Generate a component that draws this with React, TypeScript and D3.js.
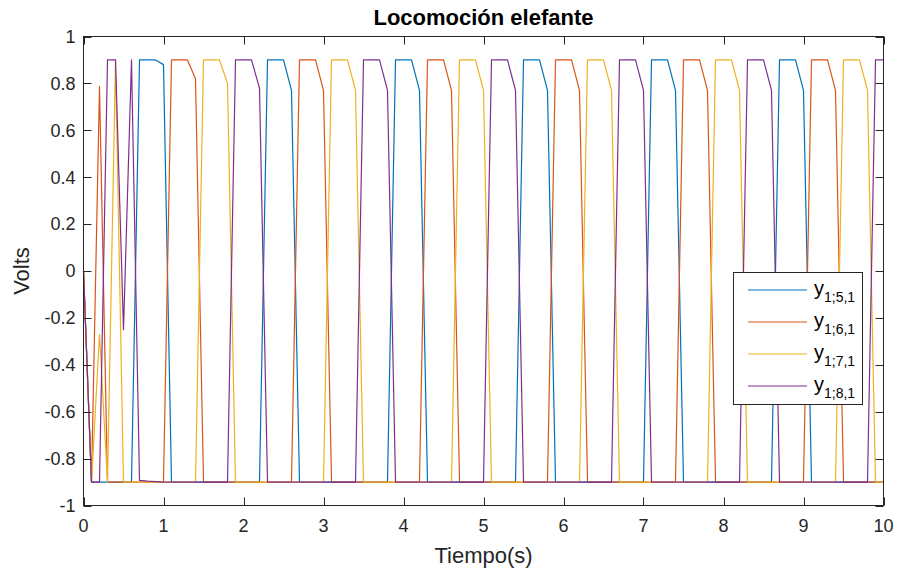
import React from 'react';
import * as d3 from 'd3';

const time = [
  0, 0.1, 0.2, 0.3, 0.4, 0.5, 0.6, 0.7, 0.8, 0.9,
  1, 1.1, 1.2, 1.3, 1.4, 1.5, 1.6, 1.7, 1.8, 1.9,
  2, 2.1, 2.2, 2.3, 2.4, 2.5, 2.6, 2.7, 2.8, 2.9,
  3, 3.1, 3.2, 3.3, 3.4, 3.5, 3.6, 3.7, 3.8, 3.9,
  4, 4.1, 4.2, 4.3, 4.4, 4.5, 4.6, 4.7, 4.8, 4.9,
  5, 5.1, 5.2, 5.3, 5.4, 5.5, 5.6, 5.7, 5.8, 5.9,
  6, 6.1, 6.2, 6.3, 6.4, 6.5, 6.6, 6.7, 6.8, 6.9,
  7, 7.1, 7.2, 7.3, 7.4, 7.5, 7.6, 7.7, 7.8, 7.9,
  8, 8.1, 8.2, 8.3, 8.4, 8.5, 8.6, 8.7, 8.8, 8.9,
  9, 9.1, 9.2, 9.3, 9.4, 9.5, 9.6, 9.7, 9.8, 9.9,
  10,
];

const y151 = [
  0, -0.9, -0.9, -0.9, -0.9, -0.9, -0.9, 0.9, 0.9, 0.9,
  0.88, -0.9, -0.9, -0.9, -0.9, -0.9, -0.9, -0.9, -0.9, -0.9,
  -0.9, -0.9, -0.9, 0.9, 0.9, 0.9, 0.77, -0.9, -0.9, -0.9,
  -0.9, -0.9, -0.9, -0.9, -0.9, -0.9, -0.9, -0.9, -0.9, 0.9,
  0.9, 0.9, 0.77, -0.9, -0.9, -0.9, -0.9, -0.9, -0.9, -0.9,
  -0.9, -0.9, -0.9, -0.9, -0.9, 0.9, 0.9, 0.9, 0.77, -0.9,
  -0.9, -0.9, -0.9, -0.9, -0.9, -0.9, -0.9, -0.9, -0.9, -0.9,
  -0.9, 0.9, 0.9, 0.9, 0.77, -0.9, -0.9, -0.9, -0.9, -0.9,
  -0.9, -0.9, -0.9, -0.9, -0.9, -0.9, -0.9, 0.9, 0.9, 0.9,
  0.77, -0.9, -0.9, -0.9, -0.9, -0.9, -0.9, -0.9, -0.9, -0.9,
  -0.9,
];

const y161 = [
  0, -0.9, 0.787, -0.9, -0.9, -0.9, -0.9, -0.9, -0.9, -0.9,
  -0.9, 0.9, 0.9, 0.9, 0.82, -0.9, -0.9, -0.9, -0.9, -0.9,
  -0.9, -0.9, -0.9, -0.9, -0.9, -0.9, -0.9, 0.9, 0.9, 0.9,
  0.77, -0.9, -0.9, -0.9, -0.9, -0.9, -0.9, -0.9, -0.9, -0.9,
  -0.9, -0.9, -0.9, 0.9, 0.9, 0.9, 0.77, -0.9, -0.9, -0.9,
  -0.9, -0.9, -0.9, -0.9, -0.9, -0.9, -0.9, -0.9, -0.9, 0.9,
  0.9, 0.9, 0.77, -0.9, -0.9, -0.9, -0.9, -0.9, -0.9, -0.9,
  -0.9, -0.9, -0.9, -0.9, -0.9, 0.9, 0.9, 0.9, 0.77, -0.9,
  -0.9, -0.9, -0.9, -0.9, -0.9, -0.9, -0.9, -0.9, -0.9, -0.9,
  -0.9, 0.9, 0.9, 0.9, 0.77, -0.9, -0.9, -0.9, -0.9, -0.9,
  -0.9,
];

const y171 = [
  0, -0.9, -0.27, -0.9, 0.9, -0.9, -0.9, -0.9, -0.9, -0.9,
  -0.9, -0.9, -0.9, -0.9, -0.9, 0.9, 0.9, 0.9, 0.8, -0.9,
  -0.9, -0.9, -0.9, -0.9, -0.9, -0.9, -0.9, -0.9, -0.9, -0.9,
  -0.9, 0.9, 0.9, 0.9, 0.77, -0.9, -0.9, -0.9, -0.9, -0.9,
  -0.9, -0.9, -0.9, -0.9, -0.9, -0.9, -0.9, 0.9, 0.9, 0.9,
  0.77, -0.9, -0.9, -0.9, -0.9, -0.9, -0.9, -0.9, -0.9, -0.9,
  -0.9, -0.9, -0.9, 0.9, 0.9, 0.9, 0.77, -0.9, -0.9, -0.9,
  -0.9, -0.9, -0.9, -0.9, -0.9, -0.9, -0.9, -0.9, -0.9, 0.9,
  0.9, 0.9, 0.77, -0.9, -0.9, -0.9, -0.9, -0.9, -0.9, -0.9,
  -0.9, -0.9, -0.9, -0.9, -0.9, 0.9, 0.9, 0.9, 0.77, -0.9,
  -0.9,
];

const y181 = [
  0, -0.9, -0.9, 0.9, 0.9, -0.25, 0.9, -0.893, -0.896, -0.898,
  -0.9, -0.9, -0.9, -0.9, -0.9, -0.9, -0.9, -0.9, -0.9, 0.9,
  0.9, 0.9, 0.78, -0.9, -0.9, -0.9, -0.9, -0.9, -0.9, -0.9,
  -0.9, -0.9, -0.9, -0.9, -0.9, 0.9, 0.9, 0.9, 0.77, -0.9,
  -0.9, -0.9, -0.9, -0.9, -0.9, -0.9, -0.9, -0.9, -0.9, -0.9,
  -0.9, 0.9, 0.9, 0.9, 0.77, -0.9, -0.9, -0.9, -0.9, -0.9,
  -0.9, -0.9, -0.9, -0.9, -0.9, -0.9, -0.9, 0.9, 0.9, 0.9,
  0.77, -0.9, -0.9, -0.9, -0.9, -0.9, -0.9, -0.9, -0.9, -0.9,
  -0.9, -0.9, -0.9, 0.9, 0.9, 0.9, 0.77, -0.9, -0.9, -0.9,
  -0.9, -0.9, -0.9, -0.9, -0.9, -0.9, -0.9, -0.9, -0.9, 0.9,
  0.9,
];

const seriesSubscripts = ['1;5,1', '1;6,1', '1;7,1', '1;8,1'];
const seriesValues = [y151, y161, y171, y181];
const seriesColors = ['#0072BD', '#D95319', '#EDB120', '#7E2F8E'];

const xTicks = [0, 1, 2, 3, 4, 5, 6, 7, 8, 9, 10];
const yTicks = [-1, -0.8, -0.6, -0.4, -0.2, 0, 0.2, 0.4, 0.6, 0.8, 1];
const yTickLabels = ['-1', '-0.8', '-0.6', '-0.4', '-0.2', '0', '0.2', '0.4', '0.6', '0.8', '1'];

const titleText = 'Locomoción elefante';
const xLabelText = 'Tiempo(s)';
const yLabelText = 'Volts';

const FONT = '"Liberation Sans", Arial, Helvetica, sans-serif';

export default function App() {
  const W = 897;
  const H = 572;
  const L = 83.5, R = 883.5, T = 36.5, B = 505.5;
  const x = d3.scaleLinear().domain([0, 10]).range([L, R]);
  const y = d3.scaleLinear().domain([-1, 1]).range([B, T]);
  const axisColor = '#262626';
  const tickLen = 8;

  const lineGen = (vals: number[]) =>
    d3
      .line<number>()
      .x((_, i) => x(time[i]))
      .y((d) => y(d))(vals) || '';

  const legend = { x0: 733.5, y0: 272.5, x1: 862.5, y1: 404.5 };
  const legendRowY = [290, 322, 354, 386];

  return (
    <svg
      width={W}
      height={H}
      viewBox={`0 0 ${W} ${H}`}
      style={{ position: 'absolute', left: 0, top: 0, background: '#fff' }}
      fontFamily={FONT}
    >
      <rect x={0} y={0} width={W} height={H} fill="#ffffff" />
      {/* data lines */}
      <g>
        {seriesValues.map((vals, si) => (
          <path
            key={si}
            d={lineGen(vals)}
            fill="none"
            stroke={seriesColors[si]}
            strokeWidth={1.2}
            strokeLinejoin="round"
          />
        ))}
      </g>
      {/* axes box */}
      <rect x={L} y={T} width={R - L} height={B - T} fill="none" stroke={axisColor} strokeWidth={1} />
      {/* x ticks */}
      {xTicks.map((v) => (
        <g key={'xt' + v}>
          <line x1={Math.round(x(v)) + 0.5} x2={Math.round(x(v)) + 0.5} y1={B} y2={B - tickLen} stroke={axisColor} />
          <line x1={Math.round(x(v)) + 0.5} x2={Math.round(x(v)) + 0.5} y1={T} y2={T + tickLen} stroke={axisColor} />
          <text x={x(v)} y={B + 26} textAnchor="middle" fontSize={18} fill={axisColor}>
            {String(v)}
          </text>
        </g>
      ))}
      {/* y ticks */}
      {yTicks.map((v, i) => (
        <g key={'yt' + i}>
          <line x1={L} x2={L + tickLen} y1={Math.round(y(v)) + 0.5} y2={Math.round(y(v)) + 0.5} stroke={axisColor} />
          <line x1={R} x2={R - tickLen} y1={Math.round(y(v)) + 0.5} y2={Math.round(y(v)) + 0.5} stroke={axisColor} />
          <text x={L - 8} y={y(v)} dy="0.35em" textAnchor="end" fontSize={18} fill={axisColor}>
            {yTickLabels[i]}
          </text>
        </g>
      ))}
      {/* title */}
      <text x={(L + R) / 2} y={25} textAnchor="middle" fontSize={22} fontWeight="bold" fill="#000">
        {titleText}
      </text>
      {/* x label */}
      <text x={(L + R) / 2} y={563} textAnchor="middle" fontSize={22} fill={axisColor}>
        {xLabelText}
      </text>
      {/* y label */}
      <text
        transform={`translate(29, ${(T + B) / 2}) rotate(-90)`}
        textAnchor="middle"
        fontSize={22}
        fill={axisColor}
      >
        {yLabelText}
      </text>
      {/* legend */}
      <rect
        x={legend.x0}
        y={legend.y0}
        width={legend.x1 - legend.x0}
        height={legend.y1 - legend.y0}
        fill="#fff"
        stroke={axisColor}
        strokeWidth={1}
      />
      {seriesSubscripts.map((s, i) => (
        <g key={'lg' + i}>
          <line x1={748} x2={807} y1={legendRowY[i]} y2={legendRowY[i]} stroke={seriesColors[i]} strokeWidth={1.2} />
          <text x={814} y={legendRowY[i] + 5} fontSize={20} fill="#000">
            y
            <tspan fontSize={14} dy={7}>
              {s}
            </tspan>
          </text>
        </g>
      ))}
    </svg>
  );
}
